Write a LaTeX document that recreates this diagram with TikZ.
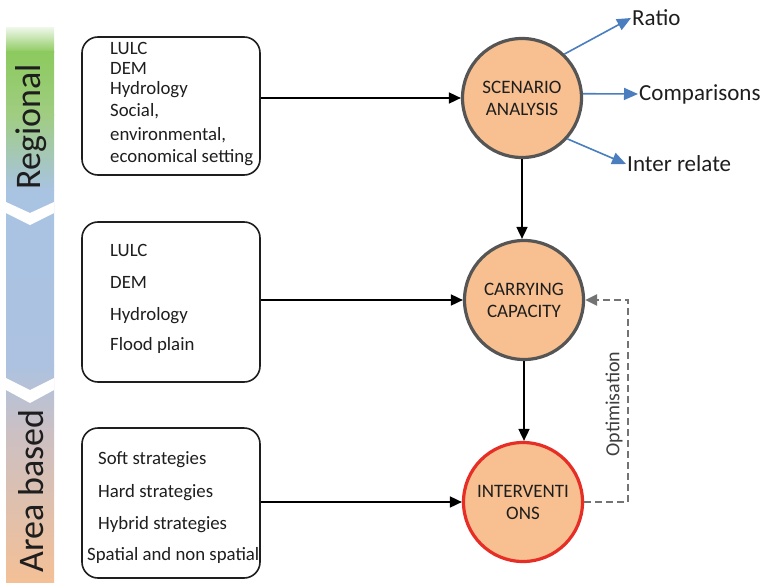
\documentclass[tikz,border=0pt]{standalone}
\usepackage{fontspec}
\setmainfont{Carlito}
\usetikzlibrary{arrows.meta}
\definecolor{peach}{RGB}{248,192,144}
\definecolor{ringgrey}{RGB}{85,85,85}
\definecolor{ringred}{RGB}{230,45,38}
\definecolor{linkblue}{RGB}{74,126,191}
\definecolor{dashgrey}{RGB}{115,115,115}
\definecolor{inkdark}{RGB}{30,30,30}
\definecolor{barwhite}{RGB}{236,246,230}
\definecolor{bargreen}{RGB}{140,202,94}
\definecolor{bargreenb}{RGB}{160,205,130}
\definecolor{barblue}{RGB}{169,195,227}
\definecolor{barblueb}{RGB}{172,194,224}
\definecolor{barmauve}{RGB}{203,192,196}
\definecolor{barpeach}{RGB}{244,192,150}
\tikzset{
  stage/.style={circle, minimum size=119pt, inner sep=0pt, line width=3.2pt,
    draw=ringgrey, fill=peach, align=center, text=inkdark,
    font=\fontsize{19}{22}\selectfont},
  infobox/.style={draw=inkdark, line width=1.6pt, rounded corners=16pt,
    minimum width=178pt, inner sep=0pt},
  itemtext/.style={anchor=base west, inner sep=0pt, text=inkdark,
    font=\fontsize{18.8}{21}\selectfont},
  outtext/.style={anchor=west, inner sep=1pt, text=inkdark,
    font=\fontsize{23}{27}\selectfont},
  flow/.style={draw=black, line width=1.7pt, -{Triangle[length=12pt,width=11pt]}},
  bluelink/.style={draw=linkblue, line width=1.6pt, -{Triangle[length=14pt,width=12pt]}},
  feedback/.style={draw=dashgrey, line width=2.2pt, dash pattern=on 7pt off 4pt,
    -{Triangle[length=12pt,width=11pt]}},
  scaletext/.style={rotate=90, inner sep=0pt, text=inkdark,
    font=\fontsize{36}{40}\selectfont},
}
\begin{document}
\begin{tikzpicture}[x=1pt, y=-1pt]
\useasboundingbox (0,0) rectangle (765,583);
\fill[white] (0,0) rectangle (765,583);

% scale bar on the left, green to blue to peach
\shade[top color=barwhite, bottom color=bargreen] (6,28) rectangle (54,52.5);
\shade[top color=bargreen, bottom color=bargreenb] (6,52) rectangle (54,115.5);
\shade[top color=bargreenb, bottom color=barblue] (6,115) rectangle (54,190.5);
\shade[top color=barblue, bottom color=barblueb] (6,190) rectangle (54,365.5);
\shade[top color=barblueb, bottom color=barmauve] (6,365) rectangle (54,430.5);
\shade[top color=barmauve, bottom color=barpeach] (6,430) rectangle (54,583);
% white chevrons between the bands
\fill[white] (6,202) -- (30,213) -- (54,202) -- (54,213) -- (30,225) -- (6,213) -- cycle;
\fill[white] (6,378) -- (30,390) -- (54,378) -- (54,390) -- (30,403) -- (6,390) -- cycle;
\node[scaletext] (regional) at (31,127) {Regional};
\node[scaletext] (areabased) at (31,491) {Area based};

% input boxes
\node[infobox, minimum height=138pt] (box1) at (171,106) {};
\node[infobox, minimum height=160pt] (box2) at (171,302) {};
\node[infobox, minimum height=150pt] (box3) at (171,503) {};

\node[itemtext] (b1a) at (110,55) {LULC};
\node[itemtext] (b1b) at (110,75) {DEM};
\node[itemtext] (b1c) at (110,95) {Hydrology};
\node[itemtext] (b1d) at (110,117) {Social,};
\node[itemtext] (b1e) at (110,140) {environmental,};
\node[itemtext] (b1f) at (110,162) {economical setting};

\node[itemtext] (b2a) at (110,256) {LULC};
\node[itemtext] (b2b) at (110,288) {DEM};
\node[itemtext] (b2c) at (110,320) {Hydrology};
\node[itemtext] (b2d) at (110,350) {Flood plain};

\node[itemtext] (b3a) at (98,464) {Soft strategies};
\node[itemtext] (b3b) at (98,497) {Hard strategies};
\node[itemtext] (b3c) at (98,529) {Hybrid strategies};
\node[itemtext] (b3d) at (87,560) {Spatial and non spatial};

% process stages
\node[stage] (scen) at (522,98) {SCENARIO\\ANALYSIS};
\node[stage] (carr) at (524,300) {CARRYING\\CAPACITY};
\node[stage, draw=ringred] (intv) at (523,502) {INTERVENTI\\ONS};

% outputs of the scenario analysis
\node[outtext] (ratio) at (631,18) {Ratio};
\node[outtext] (comp) at (638,94) {Comparisons};
\node[outtext] (inter) at (626,164) {Inter relate};

% connectors
\draw[flow] (box1.east |- scen.west) -- (scen.west);
\draw[flow] (box2.east |- carr.west) -- (carr.west);
\draw[flow] (box3.east |- intv.west) -- (intv.west);
\draw[flow] (scen.south) -- (scen.south |- carr.north);
\draw[flow] (carr.south) -- (carr.south |- intv.north);

\draw[bluelink] (scen.46) -- (ratio.west);
\draw[bluelink] (scen.4) -- (comp.west);
\draw[bluelink] (scen.-42) -- (inter.west);

% optimisation feedback loop
\coordinate (loop) at (628,502);
\draw[feedback] (intv.east) -- (loop) |- (carr.east);
\node[rotate=90, inner sep=0pt, text=inkdark!85,
  font=\fontsize{20}{24}\selectfont] (opt) at (614,404) {Optimisation};
\end{tikzpicture}
\end{document}
